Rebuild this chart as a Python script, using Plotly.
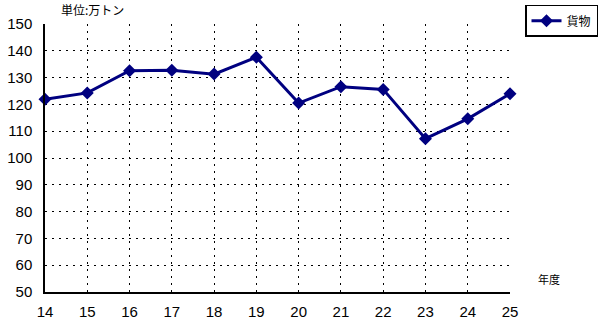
import plotly.graph_objects as go

years = [14, 15, 16, 17, 18, 19, 20, 21, 22, 23, 24, 25]
cargo = [121.9, 124.3, 132.6, 132.7, 131.3, 137.6, 120.5, 126.6, 125.6, 107.2, 114.6, 124.0]
series_name = "貨物"

fig = go.Figure()
fig.add_trace(go.Scatter(
    x=years, y=cargo, name=series_name, mode="lines+markers",
    line=dict(color="#000080", width=3),
    marker=dict(symbol="diamond", size=10, color="#000080"),
    cliponaxis=False,
))

fig.update_layout(
    width=600, height=322,
    margin=dict(l=45, r=90, t=24, b=30, autoexpand=False),
    plot_bgcolor="white", paper_bgcolor="white",
    font=dict(family="Liberation Sans, Arial", size=15, color="black"),
    showlegend=True,
    legend=dict(
        x=0.875, y=0.985, xref="container", yref="container", xanchor="left", yanchor="top",
        bordercolor="black", borderwidth=1.5, bgcolor="white",
        font=dict(size=12, family="Noto Sans CJK JP"),
        itemwidth=30, tracegroupgap=0,
    ),
)

grid_dash = "2px,5px"
fig.update_xaxes(
    range=[14, 25], tickmode="array", tickvals=years, ticktext=[str(y) for y in years],
    showgrid=True, gridcolor="black", griddash=grid_dash, gridwidth=1.3,
    showline=True, linecolor="black", linewidth=1.5, ticks="",
    ticklabelstandoff=5, automargin=False,
    zeroline=False,
)
fig.update_yaxes(
    range=[50, 150], dtick=10,
    showgrid=True, gridcolor="black", griddash=grid_dash, gridwidth=1.3,
    showline=True, linecolor="black", linewidth=1.5, ticks="",
    ticklabelstandoff=8, automargin=False,
    zeroline=False,
)

fig.add_annotation(text="単位:万トン", x=0.03, y=1.0, xref="paper", yref="paper",
                   xanchor="left", yanchor="bottom", yshift=4, showarrow=False,
                   font=dict(size=12, family="Noto Sans CJK JP"))
fig.add_annotation(text="年度", x=1.0, y=50, xref="paper", yref="y",
                   xanchor="left", yanchor="middle", xshift=26, yshift=13, showarrow=False,
                   font=dict(size=11, family="Noto Sans CJK JP"))

fig.write_html("out.html")
